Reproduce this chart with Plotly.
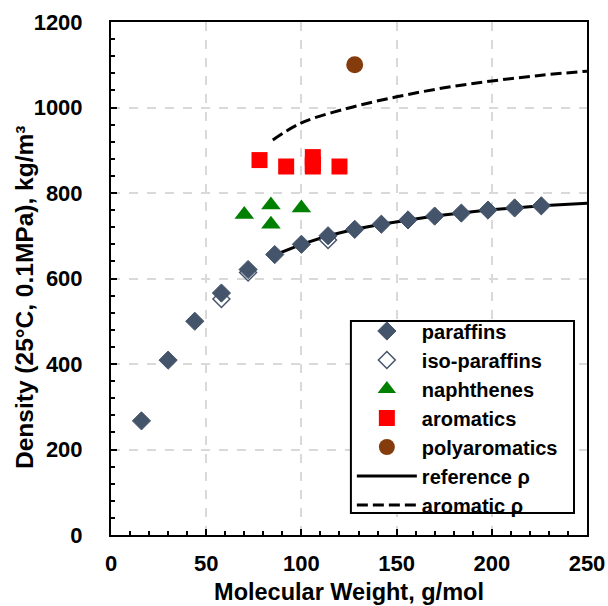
import plotly.graph_objects as go

par_mw = [16, 30, 44, 58, 72, 86, 100, 114, 128, 142, 156, 170, 184, 198, 212, 226]
par_rho = [267, 409, 500, 566, 621, 656, 680, 700, 715, 727, 737, 746, 753, 760, 765, 770]

iso_mw = [58, 72, 114]
iso_rho = [552, 614, 690]

nap_mw = [70, 84, 84, 100]
nap_rho = [750, 772, 727, 765]

aro_mw = [78, 92, 106, 106, 106, 120]
aro_rho = [877, 862, 884, 868, 862, 862]

poly_mw = [128]
poly_rho = [1100]

ref_mw = [86, 100, 114, 128, 142, 156, 170, 184, 198, 212, 226, 250]
ref_rho = [655, 680, 700, 715, 727, 737, 746, 753, 760, 765, 770, 776]

arom_mw = [85, 100, 125, 150, 175, 200, 225, 250]
arom_rho = [924, 964, 999, 1025, 1046, 1062, 1075, 1085]

FAM = "Arial, Liberation Sans, sans-serif"
font = dict(family=FAM, size=22, color="black")

fig = go.Figure()
fig.add_trace(go.Scatter(x=ref_mw, y=ref_rho, mode="lines", name="reference ρ",
                         line=dict(color="black", width=3), legendrank=6))
fig.add_trace(go.Scatter(x=arom_mw, y=arom_rho, mode="lines", name="aromatic ρ",
                         line=dict(color="black", width=3, dash="11px,5px"), line_shape="spline", legendrank=7))
fig.add_trace(go.Scatter(x=iso_mw, y=iso_rho, mode="markers", name="iso-paraffins",
                         marker=dict(symbol="diamond", size=13, color="white",
                                     line=dict(color="#44546A", width=1.5)), legendrank=2))
fig.add_trace(go.Scatter(x=par_mw, y=par_rho, mode="markers", name="paraffins",
                         marker=dict(symbol="diamond", size=14, color="#44546A",
                                     line=dict(color="#44546A", width=1)), legendrank=1))
fig.add_trace(go.Scatter(x=nap_mw, y=nap_rho, mode="markers", name="naphthenes",
                         marker=dict(symbol="triangle-up", size=17, color="#008000"), legendrank=3))
fig.add_trace(go.Scatter(x=aro_mw, y=aro_rho, mode="markers", name="aromatics",
                         marker=dict(symbol="square", size=16, color="#FF0000"), legendrank=4))
fig.add_trace(go.Scatter(x=poly_mw, y=poly_rho, mode="markers", name="polyaromatics",
                         marker=dict(symbol="circle", size=17, color="#843C0C"), legendrank=5))

axis_common = dict(showline=True, linecolor="black", linewidth=2, mirror=True,
                   ticks="inside", ticklen=6, tickwidth=1.5, tickcolor="black",
                   showgrid=True, gridcolor="#D9D9D9", griddash="dash", gridwidth=1.5,
                   zeroline=False, tickfont=dict(size=22, family=FAM, color="black"))

fig.update_xaxes(range=[0, 250], dtick=50,
                 minor=dict(dtick=10, ticks="inside", ticklen=4, tickcolor="black", showgrid=False),
                 title=dict(text="<b>Molecular Weight, g/mol</b>", font=dict(size=23.5, family=FAM), standoff=8),
                 ticklabelstandoff=8,
                 tickprefix="<b>", ticksuffix="</b>", **axis_common)
fig.update_yaxes(range=[0, 1200], dtick=200,
                 minor=dict(dtick=40, ticks="inside", ticklen=4, tickcolor="black", showgrid=False),
                 ticklabelstandoff=22,
                 tickprefix="<b>", ticksuffix="</b>", **axis_common)

fig.add_annotation(text="<b>Density (25°C, 0.1MPa), kg/m³</b>", textangle=-90,
                   xref="paper", yref="paper", x=-0.1807, y=0.464,
                   xanchor="center", yanchor="middle", showarrow=False,
                   font=dict(size=24.5, family=FAM, color="black"))

# legend frame
fig.add_shape(type="rect", xref="paper", yref="paper",
              x0=0.504, x1=0.9727, y0=0.0429, y1=0.417,
              line=dict(color="black", width=2), fillcolor="white", layer="above")

fig.update_layout(
    width=608, height=606,
    margin=dict(l=111, r=21, t=22, b=71, autoexpand=False),
    paper_bgcolor="white", plot_bgcolor="white",
    font=font,
    legend=dict(x=0.506, y=0.4357, xanchor="left", yanchor="top",
                bgcolor="rgba(0,0,0,0)", borderwidth=0,
                font=dict(size=20, family=FAM, color="black"),
                tracegroupgap=0, itemwidth=60),
    showlegend=True,
)
for tr in fig.data:
    tr.name = "<b>" + tr.name + "</b>"

fig.write_html("out.html", config={"displayModeBar": False},
               post_script="document.body.style.margin='0px';")
